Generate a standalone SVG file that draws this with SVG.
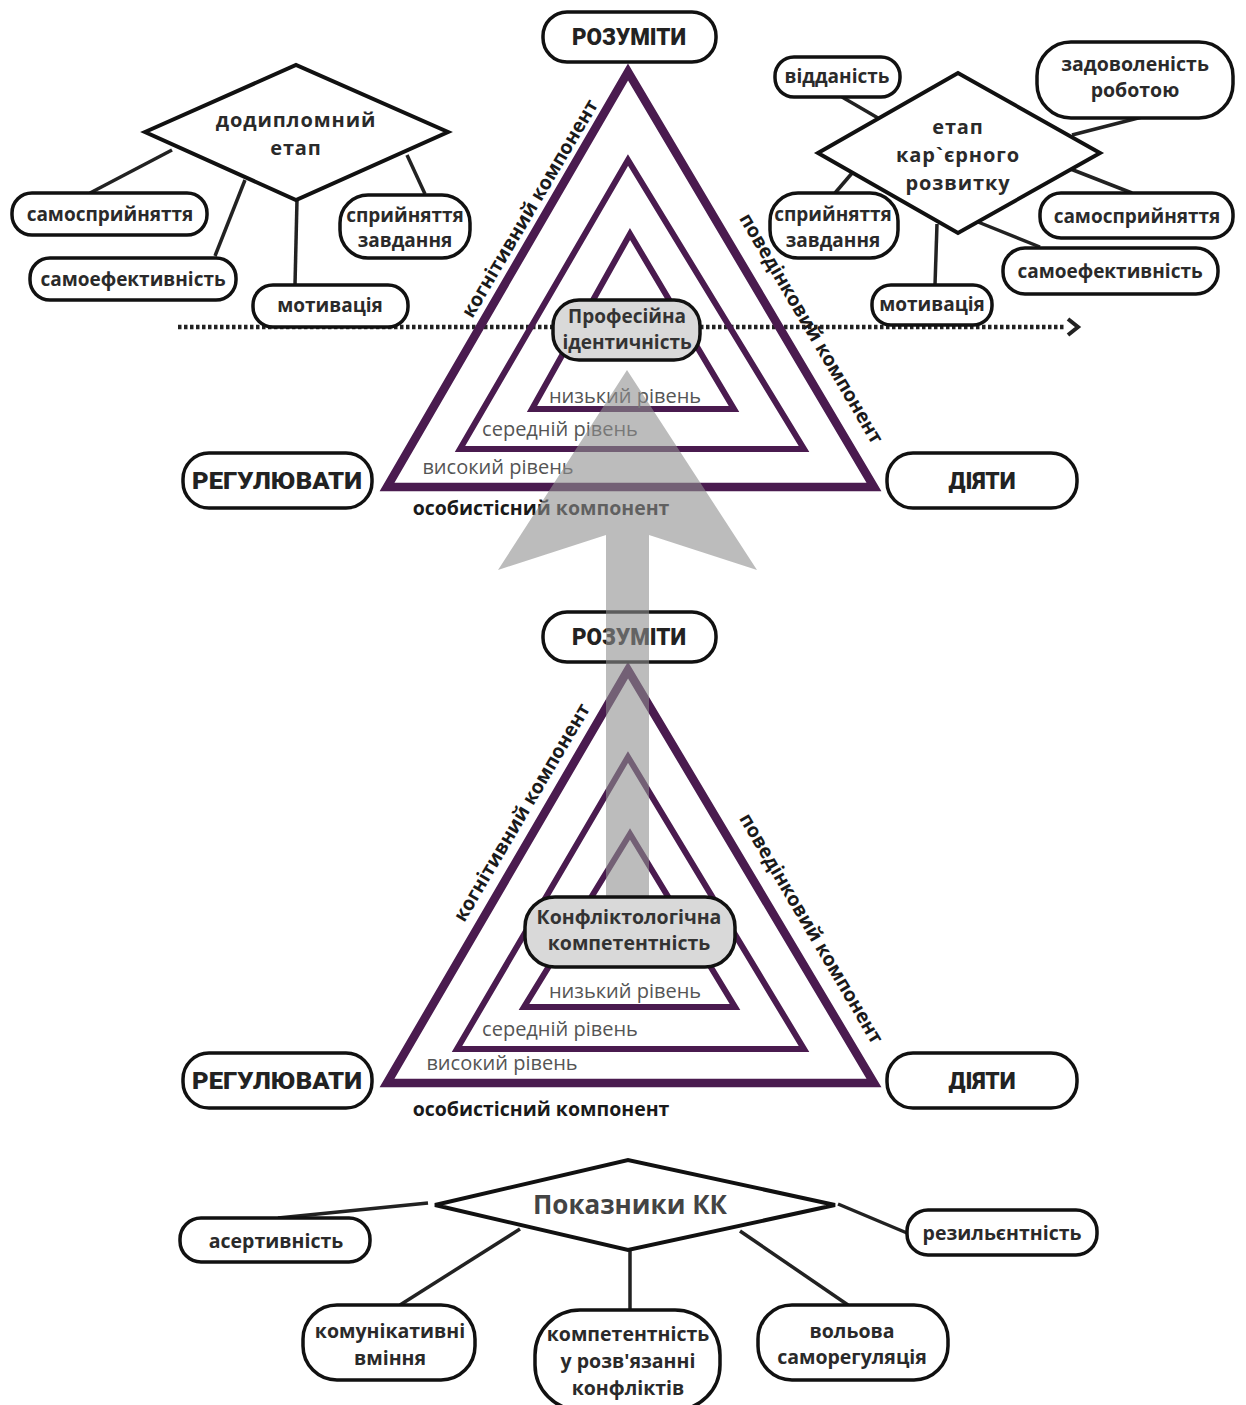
<svg xmlns="http://www.w3.org/2000/svg" width="1246" height="1405" viewBox="0 0 1246 1405">
<style>
.pill{fill:#fff;stroke:#111;stroke-width:3.5}
.gpill{fill:#d9d9d9;stroke:#111;stroke-width:3.5}
.dia{fill:#fff;stroke:#111;stroke-width:4}
.con{stroke:#222;stroke-width:3.5;fill:none}
.tri{fill:none;stroke:#4a1b4f;stroke-linejoin:miter}
.lb{font-family:"Open Sans","Noto Sans",sans-serif;font-weight:700;fill:#2a2a2a;text-anchor:middle;dominant-baseline:central;font-size:19px}
.lb20{font-size:19.5px}
.big{font-size:20px;letter-spacing:0.9px}
.kk{font-size:26px;font-weight:700;fill:#444}
.inner{fill:#333}
.cap{font-family:"Roboto","Open Sans",sans-serif;font-weight:900;fill:#222;text-anchor:middle;dominant-baseline:central;font-size:23px}
.lvl{font-family:"Open Sans","Noto Sans",sans-serif;font-weight:400;fill:#555;font-size:20px;text-anchor:middle;dominant-baseline:central}
.comp{font-family:"Open Sans","Noto Sans",sans-serif;font-weight:700;fill:#1a1a1a;font-size:19.5px;text-anchor:middle;dominant-baseline:central}
</style>
<rect width="1246" height="1405" fill="#fff"/>

<!-- connectors -->
<g id="connectors">
<line class="con" x1="90" y1="193" x2="172" y2="150"/>
<line class="con" x1="215" y1="256" x2="245" y2="180"/>
<line class="con" x1="295" y1="285" x2="297" y2="200"/>
<line class="con" x1="425" y1="194" x2="407" y2="155"/>
<line class="con" x1="842" y1="97" x2="878" y2="118"/>
<line class="con" x1="1142" y1="117" x2="1072" y2="135"/>
<line class="con" x1="835" y1="193" x2="853" y2="172"/>
<line class="con" x1="1132" y1="193" x2="1068" y2="168"/>
<line class="con" x1="1040" y1="247" x2="978" y2="222"/>
<line class="con" x1="935" y1="285" x2="937" y2="224"/>
<line class="con" x1="278" y1="1218" x2="428" y2="1203"/>
<line class="con" x1="838" y1="1204" x2="907" y2="1233"/>
<line class="con" x1="400" y1="1305" x2="520" y2="1229"/>
<line class="con" x1="630" y1="1250" x2="630" y2="1310"/>
<line class="con" x1="740" y1="1231" x2="848" y2="1305"/>
<line x1="178" y1="327" x2="1066" y2="327" stroke="#222" stroke-width="4.5" stroke-dasharray="3.5 2.5"/>
<polyline points="1068,319 1078,327 1068,335" fill="none" stroke="#222" stroke-width="4"/>
</g>

<!-- top triangle -->
<g id="top-triangle">
<polygon class="tri" stroke-width="8.5" points="628,72 387,487 874,487"/>
<polygon class="tri" stroke-width="6" points="628,160 460,449 804,449"/>
<polygon class="tri" stroke-width="6" points="630,234 532,409 734,409"/>
<text class="lvl" x="625" y="395">низький  рівень</text>
<text class="lvl" x="560" y="428">середній рівень</text>
<text class="lvl" x="498" y="466">високий рівень</text>
<text class="comp" x="541" y="507">особистісний компонент</text>
<text class="comp" transform="translate(529,208) rotate(-59.5)">когнітивний компонент</text>
<text class="comp" transform="translate(812,328) rotate(59.5)">поведінковий компонент</text>
</g>

<!-- bottom triangle -->
<g id="bottom-triangle">
<polygon class="tri" stroke-width="8.5" points="628,670 387,1083 874,1083"/>
<polygon class="tri" stroke-width="6" points="628,757 457,1049 804,1049"/>
<polygon class="tri" stroke-width="6" points="630,834 524,1007 735,1007"/>
<text class="lvl" x="625" y="990">низький  рівень</text>
<text class="lvl" x="560" y="1028">середній рівень</text>
<text class="lvl" x="502" y="1062">високий рівень</text>
<text class="comp" x="541" y="1108">особистісний компонент</text>
<text class="comp" transform="translate(521,812) rotate(-59.5)">когнітивний компонент</text>
<text class="comp" transform="translate(812,928) rotate(59.5)">поведінковий компонент</text>
</g>

<g id="rozumity-bottom"><rect class="pill" x="543" y="612" width="173" height="50" rx="24"/><text class="cap" x="629" y="637" textLength="114" lengthAdjust="spacingAndGlyphs">РОЗУМІТИ</text></g>

<!-- grey arrow -->
<g id="growth-arrow" opacity="0.6">
<polygon fill="#8f8f8f" points="627,370 757,570 649,535 649,900 606,900 606,535 498,570"/>
</g>

<!-- top nodes -->
<g id="rozumity-top"><rect class="pill" x="543" y="12" width="173" height="50" rx="24"/><text class="cap" x="629" y="37" textLength="114" lengthAdjust="spacingAndGlyphs">РОЗУМІТИ</text></g>
<g id="reguliuvaty-top"><rect class="pill" x="183" y="453" width="189" height="55" rx="26"/><text class="cap" x="277" y="481" textLength="170" lengthAdjust="spacingAndGlyphs">РЕГУЛЮВАТИ</text></g>
<g id="diiaty-top"><rect class="pill" x="887" y="453" width="190" height="55" rx="26"/><text class="cap" x="982" y="481" textLength="67" lengthAdjust="spacingAndGlyphs">ДІЯТИ</text></g>
<g id="prof-identity"><rect class="gpill" x="553" y="300" width="147" height="60" rx="26"/><text class="lb inner" x="627" y="316">Професійна</text><text class="lb inner" x="627" y="342">ідентичність</text></g>

<g id="predyploma"><polygon class="dia" points="145,132 296,65 448,132 296,200"/><text class="lb big" x="296" y="119">додипломний</text><text class="lb big" x="296" y="147">етап</text></g>
<g id="l-samospryiniattia"><rect class="pill" x="12" y="193" width="195" height="42" rx="20"/><text class="lb" x="110" y="214">самосприйняття</text></g>
<g id="l-samoefektyvnist"><rect class="pill" x="30" y="258" width="206" height="42" rx="20"/><text class="lb" x="133" y="279">самоефективність</text></g>
<g id="l-motyvatsiia"><rect class="pill" x="253" y="285" width="155" height="42" rx="20"/><text class="lb" x="330" y="305">мотивація</text></g>
<g id="l-spryiniattia"><rect class="pill" x="340" y="195" width="130" height="63" rx="28"/><text class="lb" x="405" y="215">сприйняття</text><text class="lb" x="405" y="240">завдання</text></g>

<g id="career"><polygon class="dia" points="818,153 958,73 1100,153 958,233"/><text class="lb big" x="958" y="126">етап</text><text class="lb big" x="958" y="154">кар`єрного</text><text class="lb big" x="958" y="182">розвитку</text></g>
<g id="r-viddanist"><rect class="pill" x="775" y="57" width="125" height="40" rx="19"/><text class="lb" x="837" y="76">відданість</text></g>
<g id="r-zadovolenist"><rect class="pill" x="1037" y="42" width="196" height="76" rx="34"/><text class="lb lb20" x="1135" y="63">задоволеність</text><text class="lb lb20" x="1135" y="89">роботою</text></g>
<g id="r-spryiniattia"><rect class="pill" x="770" y="193" width="128" height="65" rx="28"/><text class="lb" x="833" y="214">сприйняття</text><text class="lb" x="833" y="240">завдання</text></g>
<g id="r-samospryiniattia"><rect class="pill" x="1040" y="193" width="193" height="45" rx="21"/><text class="lb" x="1137" y="216">самосприйняття</text></g>
<g id="r-samoefektyvnist"><rect class="pill" x="1003" y="248" width="215" height="46" rx="22"/><text class="lb" x="1110" y="271">самоефективність</text></g>
<g id="r-motyvatsiia"><rect class="pill" x="872" y="285" width="120" height="40" rx="19"/><text class="lb" x="932" y="304">мотивація</text></g>

<!-- bottom nodes -->
<g id="conflict-competence"><rect class="gpill" x="525" y="897" width="210" height="70" rx="30"/><text class="lb lb20 inner" x="629" y="916">Конфліктологічна</text><text class="lb lb20 inner" x="629" y="942">компетентність</text></g>
<g id="reguliuvaty-bottom"><rect class="pill" x="183" y="1053" width="189" height="55" rx="26"/><text class="cap" x="277" y="1081" textLength="170" lengthAdjust="spacingAndGlyphs">РЕГУЛЮВАТИ</text></g>
<g id="diiaty-bottom"><rect class="pill" x="887" y="1053" width="190" height="55" rx="26"/><text class="cap" x="982" y="1081" textLength="67" lengthAdjust="spacingAndGlyphs">ДІЯТИ</text></g>

<g id="kk"><polygon class="dia" points="435,1205 628,1160 835,1205 628,1250"/><text class="lb kk" x="630" y="1204">Показники КК</text></g>
<g id="asertyvnist"><rect class="pill" x="180" y="1218" width="190" height="44" rx="21"/><text class="lb lb20" x="276" y="1240">асертивність</text></g>
<g id="rezylientnist"><rect class="pill" x="907" y="1210" width="190" height="45" rx="21"/><text class="lb lb20" x="1002" y="1232">резильєнтність</text></g>
<g id="komunikatyvni"><rect class="pill" x="303" y="1305" width="172" height="75" rx="34"/><text class="lb lb20" x="390" y="1330">комунікативні</text><text class="lb lb20" x="390" y="1357">вміння</text></g>
<g id="rozviazannia"><rect class="pill" x="535" y="1310" width="185" height="100" rx="45"/><text class="lb lb20" x="628" y="1333">компетентність</text><text class="lb lb20" x="628" y="1360">у розв'язанні</text><text class="lb lb20" x="628" y="1387">конфліктів</text></g>
<g id="volova"><rect class="pill" x="758" y="1305" width="190" height="75" rx="34"/><text class="lb lb20" x="852" y="1330">вольова</text><text class="lb lb20" x="852" y="1356">саморегуляція</text></g>
</svg>
